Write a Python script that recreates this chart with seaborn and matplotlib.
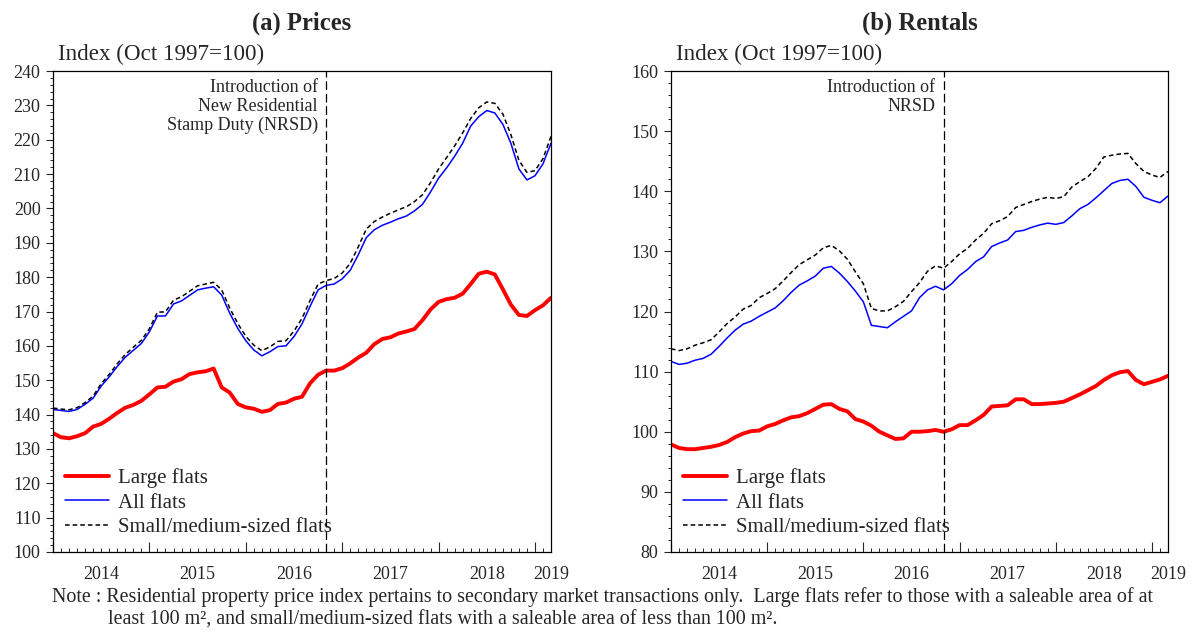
import numpy as np
import pandas as pd
import matplotlib
matplotlib.use('Agg')
import matplotlib.pyplot as plt
from matplotlib.ticker import MultipleLocator
import seaborn as sns

# monthly index, Jan 2014 = 0 ... Mar 2019 = 62
months = np.arange(63)
nrsd_month = 34  # Nov 2016
year_labels = ['2014', '2015', '2016', '2017', '2018', '2019']
year_label_pos = [6, 18, 30, 42, 54, 62]

# (a) Prices
price_large = [134.6, 133.4, 133.1, 133.7, 134.6, 136.5, 137.3, 138.8, 140.5, 142.0,
               142.8, 144.0, 145.9, 147.9, 148.1, 149.6, 150.3, 151.8, 152.3, 152.6,
               153.4, 147.9, 146.4, 143.1, 142.1, 141.7, 140.8, 141.3, 143.1, 143.5,
               144.6, 145.2, 149.1, 151.6, 152.8, 152.8, 153.5, 154.9, 156.6, 158.0,
               160.5, 162.0, 162.5, 163.6, 164.2, 164.9, 167.5, 170.6, 172.8, 173.6,
               174.0, 175.2, 178.0, 181.0, 181.6, 180.8, 176.5, 172.0, 169.0, 168.7,
               170.4, 171.8, 174.0]
price_all = [141.5, 141.2, 140.9, 141.5, 143.0, 144.8, 148.3, 151.0, 154.0, 156.7,
             158.7, 160.7, 164.1, 168.7, 168.7, 172.2, 173.1, 174.7, 176.3, 176.8,
             177.2, 174.8, 169.5, 165.1, 161.5, 158.8, 157.1, 158.3, 159.8, 160.0,
             162.7, 166.4, 171.5, 176.3, 177.6, 178.0, 179.5, 182.0, 186.5, 191.5,
             193.8, 195.1, 196.0, 197.0, 197.8, 199.3, 201.2, 204.8, 208.8, 211.8,
             215.2, 219.0, 224.0, 226.7, 228.5, 227.8, 224.5, 219.0, 211.5, 208.3,
             209.5, 213.0, 219.0]
price_small = [141.9, 141.6, 141.4, 142.0, 143.5, 145.4, 149.0, 151.7, 154.8, 157.5,
               159.6, 161.6, 165.0, 169.8, 169.9, 173.3, 174.3, 175.9, 177.5, 178.0,
               178.5, 176.3, 171.0, 166.5, 162.8, 160.2, 158.6, 159.7, 161.3, 161.5,
               164.3, 168.0, 173.2, 178.0, 179.0, 179.6, 181.2, 184.0, 188.8, 194.0,
               196.2, 197.5, 198.6, 199.6, 200.5, 202.0, 204.0, 207.5, 211.5, 214.8,
               218.2, 222.0, 226.2, 229.3, 231.0, 230.6, 227.5, 221.5, 214.0, 210.5,
               211.0, 214.5, 221.0]

# (b) Rentals
rent_large = [97.9, 97.3, 97.1, 97.1, 97.3, 97.5, 97.8, 98.3, 99.1, 99.7,
              100.1, 100.2, 100.9, 101.3, 101.9, 102.4, 102.6, 103.1, 103.8, 104.5,
              104.6, 103.8, 103.4, 102.1, 101.7, 101.0, 100.0, 99.4, 98.8, 98.9,
              100.0, 100.0, 100.1, 100.3, 100.0, 100.4, 101.1, 101.1, 101.9, 102.8,
              104.2, 104.3, 104.4, 105.4, 105.4, 104.6, 104.6, 104.7, 104.8, 105.0,
              105.6, 106.2, 106.9, 107.6, 108.6, 109.4, 109.9, 110.1, 108.6, 107.9,
              108.3, 108.7, 109.3]
rent_all = [111.7, 111.2, 111.4, 111.9, 112.2, 112.9, 114.2, 115.6, 116.9, 117.9,
            118.4, 119.2, 119.9, 120.6, 121.8, 123.2, 124.4, 125.1, 125.9, 127.2,
            127.5, 126.4, 125.0, 123.4, 121.6, 117.7, 117.5, 117.3, 118.3, 119.2,
            120.1, 122.3, 123.6, 124.2, 123.6, 124.6, 126.0, 127.0, 128.3, 129.1,
            130.8, 131.4, 131.9, 133.3, 133.5, 134.0, 134.4, 134.7, 134.5, 134.8,
            135.9, 137.1, 137.8, 138.9, 140.1, 141.3, 141.8, 142.0, 140.8, 139.0,
            138.5, 138.1, 139.2]
rent_small = [113.8, 113.5, 113.8, 114.4, 114.8, 115.3, 116.6, 118.0, 119.1, 120.4,
              121.0, 122.3, 123.0, 123.8, 125.1, 126.5, 127.8, 128.6, 129.4, 130.6,
              131.0, 130.1, 128.7, 126.6, 124.6, 120.5, 120.1, 120.1, 120.8, 121.7,
              123.3, 124.8, 126.7, 127.6, 127.2, 128.3, 129.6, 130.5, 131.9, 133.0,
              134.6, 135.1, 135.8, 137.3, 137.8, 138.3, 138.7, 139.0, 138.8, 139.1,
              140.7, 141.6, 142.4, 143.8, 145.7, 146.0, 146.2, 146.3, 144.6, 143.3,
              142.7, 142.3, 143.3]

sns.set_theme(style='white')
plt.rcParams['font.family'] = ['Liberation Serif', 'DejaVu Serif']
plt.rcParams['axes.edgecolor'] = 'black'
plt.rcParams['axes.linewidth'] = 0.9

fig = plt.figure(figsize=(11.94, 6.32), dpi=100)
ax_a = fig.add_axes([0.0444, 0.1266, 0.4171, 0.761])
ax_b = fig.add_axes([0.5620, 0.1266, 0.4162, 0.761])


def draw_panel(ax, large, all_flats, small, title, ylim, note):
    # lines
    sns.lineplot(x=months, y=large, ax=ax, color='#ff0000', linewidth=2.8,
                 label='Large flats')
    sns.lineplot(x=months, y=all_flats, ax=ax, color='#0000ff', linewidth=1.1,
                 label='All flats')
    sns.lineplot(x=months, y=small, ax=ax, color='black', linewidth=1.1,
                 linestyle=(0, (3, 2)), label='Small/medium-sized flats')
    ax.axvline(nrsd_month, color='black', linewidth=0.9, linestyle=(0, (7, 3)))

    ax.set_xlim(0, 62)
    ax.set_ylim(*ylim)
    ax.set_xlabel('')
    ax.set_ylabel('')

    # axis ticks
    ax.yaxis.set_major_locator(MultipleLocator(10))
    ax.yaxis.set_minor_locator(MultipleLocator(2))
    ax.xaxis.set_major_locator(MultipleLocator(12))
    ax.xaxis.set_minor_locator(MultipleLocator(1))
    ax.set_xticklabels([])
    ax.tick_params(axis='y', which='major', direction='out', length=5, width=0.8,
                   labelsize=13, pad=4, left=True)
    ax.tick_params(axis='y', which='minor', direction='out', length=2.5, width=0.7,
                   left=True)
    ax.tick_params(axis='x', which='major', direction='in', length=7, width=0.8,
                   bottom=True)
    ax.tick_params(axis='x', which='minor', direction='in', length=3, width=0.7,
                   bottom=True)
    for lab, pos in zip(year_labels, year_label_pos):
        ax.annotate(lab, xy=(pos, 0), xycoords=('data', 'axes fraction'),
                    xytext=(0, -10), textcoords='offset points',
                    ha='center', va='top', fontsize=13)

    ax.set_title(title, fontweight='bold', fontsize=17.7, pad=30)
    ax.text(0.01, 1.012, 'Index (Oct 1997=100)', transform=ax.transAxes,
            ha='left', va='bottom', fontsize=16.6)
    ax.annotate(note, xy=(nrsd_month, 1), xycoords=('data', 'axes fraction'),
                xytext=(-6, -6), textcoords='offset points',
                ha='right', va='top', fontsize=13, linespacing=1.12)

    ax.legend(loc='lower left', bbox_to_anchor=(0.008, 0.013), borderaxespad=0,
              frameon=False, fontsize=15, handlelength=2.1, handletextpad=0.45,
              labelspacing=0.25)
    for s in ax.spines.values():
        s.set_visible(True)
        s.set_color('black')


draw_panel(ax_a, price_large, price_all, price_small, '(a) Prices', (100, 240),
           'Introduction of\nNew Residential\nStamp Duty (NRSD)')
draw_panel(ax_b, rent_large, rent_all, rent_small, '(b) Rentals', (80, 160),
           'Introduction of\nNRSD')

fig.text(52 / 1194, 1 - 597 / 632,
         'Note : Residential property price index pertains to secondary market '
         'transactions only.  Large flats refer to those with a saleable area of at',
         ha='left', va='center', fontsize=14.4)
fig.text(108 / 1194, 1 - 620 / 632,
         'least 100 m\u00b2, and small/medium-sized flats with a saleable area of '
         'less than 100 m\u00b2.',
         ha='left', va='center', fontsize=14.4)

fig.savefig('out.png', dpi=100)
